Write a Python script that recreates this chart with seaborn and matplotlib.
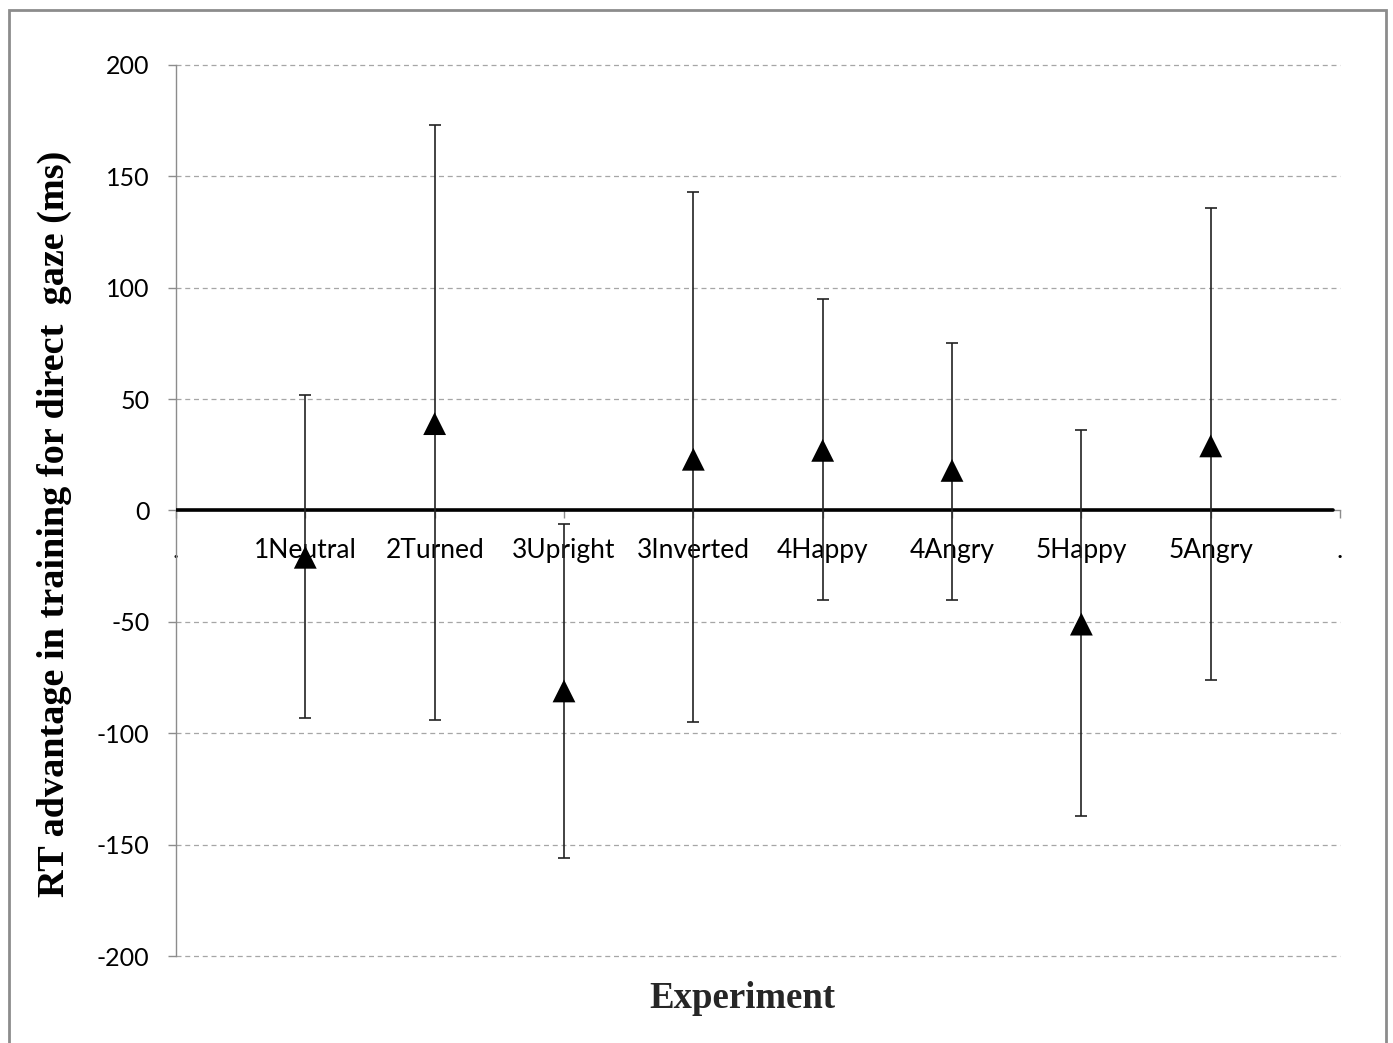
import matplotlib
matplotlib.use("Agg")
import matplotlib.pyplot as plt
from matplotlib.patches import Rectangle
import seaborn as sns
import pandas as pd

sns.set_theme(style="white")

# data
conditions = ["1Neutral", "2Turned", "3Upright", "3Inverted",
              "4Happy", "4Angry", "5Happy", "5Angry"]
rt_advantage = [-21, 39, -81, 23, 27, 18, -51, 29]
ci_upper = [52, 173, -6, 143, 95, 75, 36, 136]
ci_lower = [-93, -94, -156, -95, -40, -40, -137, -76]
yticks = [-200, -150, -100, -50, 0, 50, 100, 150, 200]

df = pd.DataFrame({
    "pos": range(1, len(conditions) + 1),
    "Condition": conditions,
    "RT": rt_advantage,
    "upper": ci_upper,
    "lower": ci_lower,
})

fig = plt.figure(figsize=(13.93, 10.43), dpi=100)
ax = fig.add_axes([0.1263, 0.0834, 0.8357, 0.8543])

grey = "#8c8c8c"

# error bars
ax.errorbar(df["pos"], df["RT"],
            yerr=[df["RT"] - df["lower"], df["upper"] - df["RT"]],
            fmt="none", ecolor="#222222", elinewidth=1.2, capsize=4.3,
            capthick=1.2, zorder=3)

# triangles
sns.scatterplot(data=df, x="pos", y="RT", marker="^", s=270, color="black",
                edgecolor="none", ax=ax, zorder=4, legend=False)

# thick zero line
ax.axhline(0, xmin=0, xmax=0.994, color="black", lw=2.6, zorder=2.8)

ax.set_xlim(0, len(conditions) + 1)
ax.set_ylim(-200, 200)
ax.set_yticks(yticks)
ax.set_yticklabels([str(v) for v in yticks])
ax.set_xticks(range(0, len(conditions) + 2))
ax.set_xticklabels(["."] + conditions + ["."])

for y in yticks:
    if y != 0:
        ax.axhline(y, color="#a6a6a6", lw=0.9, ls=(0, (4, 3)), zorder=1,
                   clip_on=False)

for s in ["top", "right"]:
    ax.spines[s].set_visible(False)
ax.spines["left"].set_color(grey)
ax.spines["left"].set_linewidth(1.0)
ax.spines["bottom"].set_position(("data", 0))
ax.spines["bottom"].set_color(grey)
ax.spines["bottom"].set_linewidth(1.0)

ax.tick_params(axis="y", direction="out", length=6, width=1.0, color=grey,
               pad=13, labelsize=18, left=True)
ax.tick_params(axis="x", direction="out", length=6, width=1.0, color=grey,
               pad=14, labelsize=19, bottom=True)
for lab in ax.get_xticklabels() + ax.get_yticklabels():
    lab.set_fontfamily("Lato")
    lab.set_color("black")

ax.set_xlabel("")
ax.set_ylabel("RT advantage in training for direct  gaze (ms)",
              fontsize=27.5, fontweight="bold", family="Liberation Serif",
              color="black")
ax.yaxis.set_label_coords(-0.089, 0.485)
fig.text(0.533, 0.043, "Experiment", ha="center", va="center",
         fontsize=26.5, fontweight="bold", family="Liberation Serif")

# outer frame
fig.patches.append(Rectangle((0.0065, -0.01), 0.9885, 1.0005, transform=fig.transFigure,
                             fill=False, edgecolor="#8c8c8c", lw=2.0))

fig.savefig("out.png", dpi=100, facecolor="white")
